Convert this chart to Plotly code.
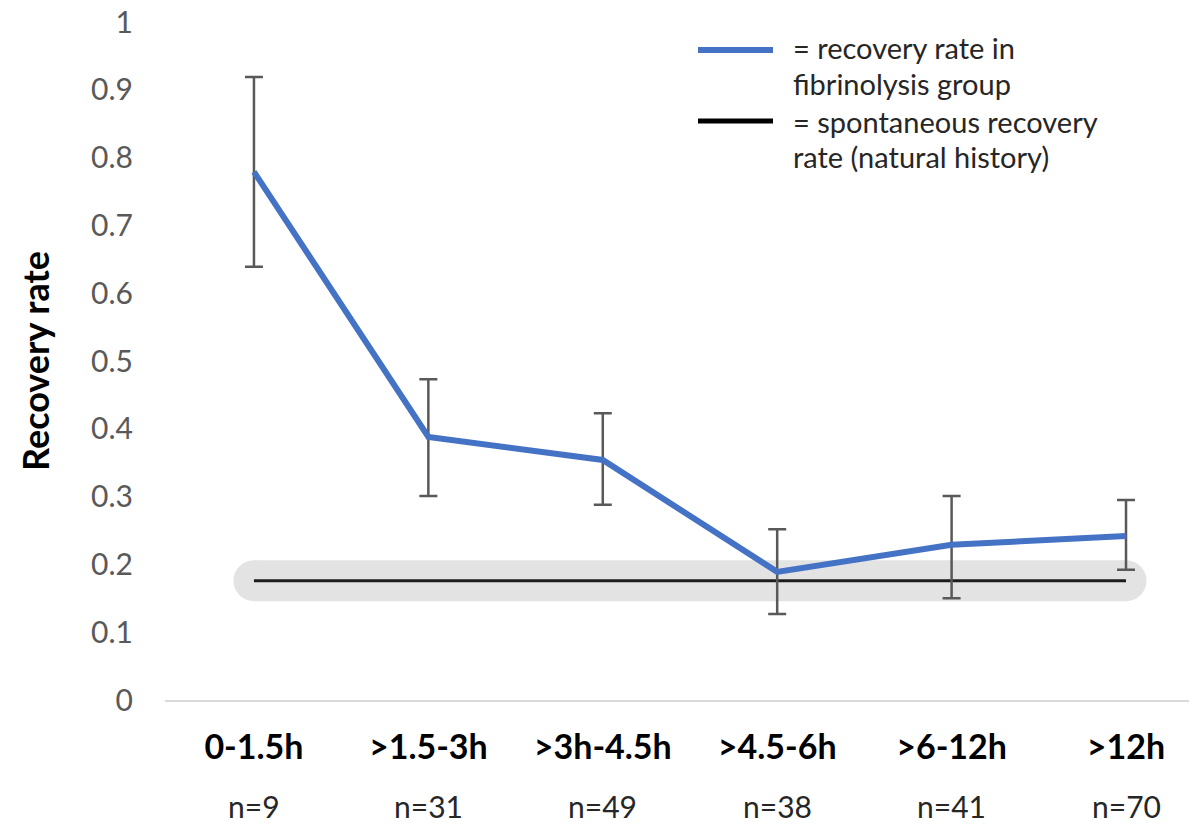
import plotly.graph_objects as go

# ---- data ----
categories = ["0-1.5h", ">1.5-3h", ">3h-4.5h", ">4.5-6h", ">6-12h", ">12h"]
n_labels = ["n=9", "n=31", "n=49", "n=38", "n=41", "n=70"]
recovery_rate = [0.779, 0.388, 0.354, 0.189, 0.229, 0.242]
ci_upper = [0.919, 0.473, 0.423, 0.252, 0.301, 0.295]
ci_lower = [0.639, 0.301, 0.288, 0.127, 0.150, 0.192]
natural_rate = 0.176
y_ticks = [0, 0.1, 0.2, 0.3, 0.4, 0.5, 0.6, 0.7, 0.8, 0.9, 1]
y_ticktext = ["0", "0.1", "0.2", "0.3", "0.4", "0.5", "0.6", "0.7", "0.8", "0.9", "1"]

FONT = "Lato"
OFF = 8                      # page body margin
W, H = 1197 - OFF, 825 - OFF
ML, MR, MT, MB = 165 - OFF, 0, 22 - OFF, 125

xs = list(range(len(categories)))
err_plus = [u - v for u, v in zip(ci_upper, recovery_rate)]
err_minus = [v - l for v, l in zip(recovery_rate, ci_lower)]

fig = go.Figure()

# grey band behind natural history line (rounded ends)
fig.add_trace(go.Scatter(
    x=[xs[0], xs[-1]], y=[natural_rate, natural_rate],
    mode="lines+markers",
    line=dict(color="#e4e3e4", width=41),
    marker=dict(color="#e4e3e4", size=41, line=dict(width=0)),
    hoverinfo="skip", showlegend=False))

# natural history line
fig.add_trace(go.Scatter(
    x=[xs[0], xs[-1]], y=[natural_rate, natural_rate],
    mode="lines", line=dict(color="#1c1c1c", width=3),
    showlegend=False))

# fibrinolysis group with error bars
fig.add_trace(go.Scatter(
    x=xs, y=recovery_rate, mode="lines",
    line=dict(color="#4472C4", width=6),
    error_y=dict(type="data", array=err_plus, arrayminus=err_minus,
                 color="#595959", thickness=2.5, width=9),
    showlegend=False))

fig.update_xaxes(
    range=[-0.51, 5.407], tickmode="array", tickvals=xs,
    ticktext=[f"<b>{c}</b>" for c in categories],
    showline=True, linecolor="#d9d9d9", linewidth=2, showgrid=False,
    zeroline=False, ticks="", tickfont=dict(family=FONT, size=34, color="#000000"),
    ticklabelstandoff=16, automargin=False)
fig.update_yaxes(
    range=[0, 1], tickmode="array", tickvals=y_ticks, ticktext=y_ticktext,
    showgrid=False, zeroline=False, showline=False, ticks="",
    tickfont=dict(family=FONT, size=30, color="#595959"),
    ticklabelstandoff=31, ticklabeloverflow="allow", automargin=False,
    title=dict(text="<b>Recovery rate</b>", font=dict(family=FONT, size=36, color="#000000"),
               standoff=30))

# sample sizes under category labels
for x, n in zip(xs, n_labels):
    fig.add_annotation(text=n, xref="x", yref="paper", x=x, y=(700 - 806) / 678,
                       xanchor="center", yanchor="middle", showarrow=False,
                       font=dict(family=FONT, size=30, color="#262626"))

# manual legend
def px_x(p):
    return (p - 165) / 1032

def px_y(p):
    return (700 - p) / 678

fig.add_shape(type="line", xref="paper", yref="paper",
              x0=px_x(698), x1=px_x(773), y0=px_y(50), y1=px_y(50),
              line=dict(color="#4472C4", width=6))
fig.add_shape(type="line", xref="paper", yref="paper",
              x0=px_x(698), x1=px_x(773), y0=px_y(121), y1=px_y(121),
              line=dict(color="#000000", width=5))
legend_lines = [("= recovery rate in", 48), ("fibrinolysis group", 84),
                ("= spontaneous recovery", 121), ("rate (natural history)", 156)]
for txt, py in legend_lines:
    fig.add_annotation(text=txt, xref="paper", yref="paper", x=px_x(791), y=px_y(py),
                       xanchor="left", yanchor="middle", showarrow=False,
                       font=dict(family=FONT, size=29, color="#262626"))

fig.update_layout(
    width=W, height=H, margin=dict(l=ML, r=MR, t=MT, b=MB),
    paper_bgcolor="white", plot_bgcolor="white",
    font=dict(family=FONT), showlegend=False)

fig.write_html("out.html")
